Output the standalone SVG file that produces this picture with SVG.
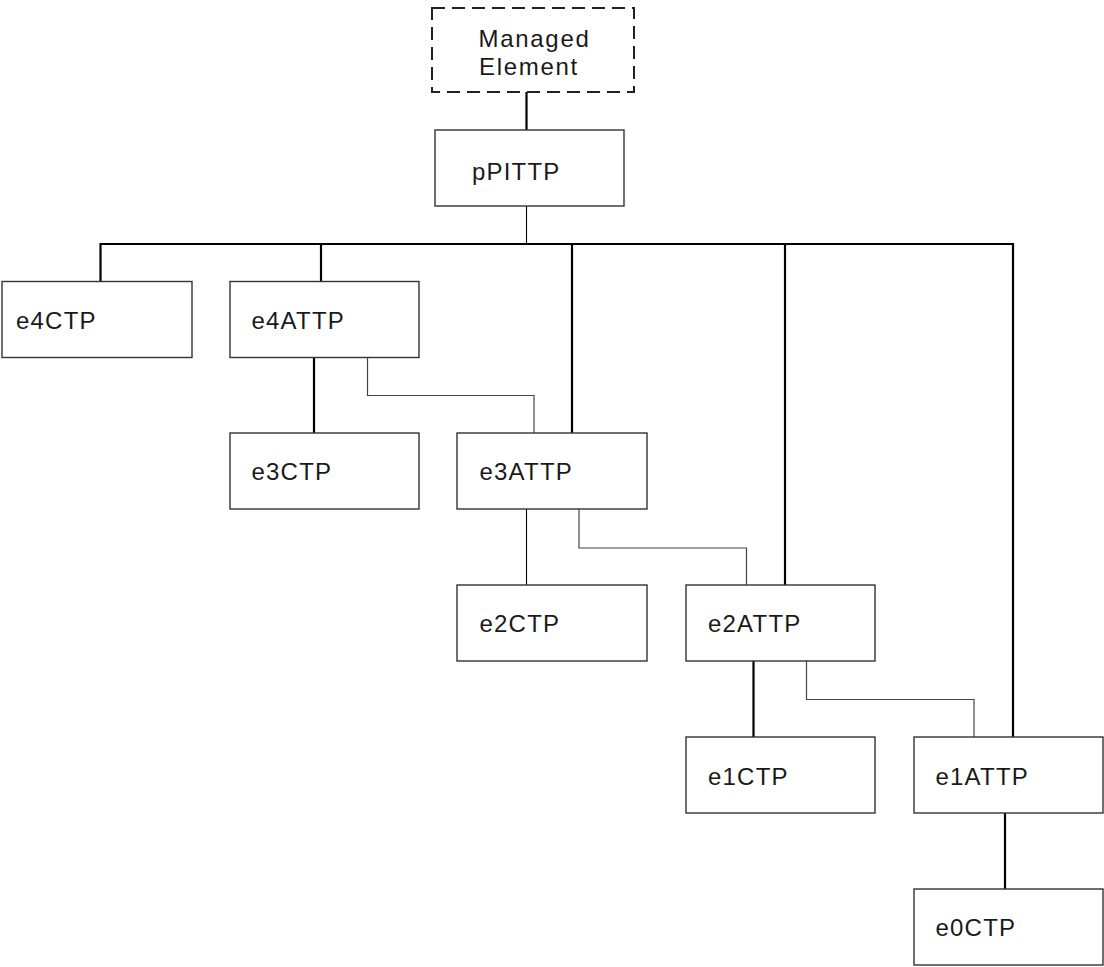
<svg xmlns="http://www.w3.org/2000/svg" width="1104" height="967" viewBox="0 0 1104 967">
<style>
.box{fill:#fff;stroke:#333;stroke-width:1.4}
.dash{fill:#fff;stroke:#222;stroke-width:2;stroke-dasharray:13 7}
.lbl{font-family:"Liberation Sans",Arial,sans-serif;font-size:24px;letter-spacing:1.2px;fill:#1a1a1a}
.me{letter-spacing:1.7px}
.thick{fill:none;stroke:#000;stroke-width:2.2}
.thin{fill:none;stroke:#000;stroke-width:1.1}
.jog{fill:none;stroke:#444;stroke-width:1.2}
</style>
<rect width="1104" height="967" fill="#fff"/>
<g id="connectors">
<line class="thick" x1="526.5" y1="92" x2="526.5" y2="130"/>
<line class="thin" x1="526.5" y1="206" x2="526.5" y2="244"/>
<polyline class="thick" points="100.5,282 100.5,244 1013,244 1013,737"/>
<line class="thick" x1="321" y1="244" x2="321" y2="282"/>
<line class="thick" x1="572" y1="244" x2="572" y2="433"/>
<line class="thick" x1="785" y1="244" x2="785" y2="585"/>
<line class="thick" x1="314" y1="357" x2="314" y2="433"/>
<polyline class="jog" points="367.5,357 367.5,395.5 534,395.5 534,433"/>
<line class="thin" x1="526.5" y1="509" x2="526.5" y2="585"/>
<polyline class="jog" points="579,509 579,548 746.5,548 746.5,585"/>
<line class="thick" x1="753.5" y1="661" x2="753.5" y2="737"/>
<polyline class="jog" points="806.5,661 806.5,699.5 974,699.5 974,737"/>
<line class="thick" x1="1005" y1="813" x2="1005" y2="889"/>
</g>
<g id="managed-element">
<rect class="dash" x="432" y="8" width="202" height="84"/>
<text class="lbl me" x="478.5" y="46.5">Managed</text>
<text class="lbl me" x="479" y="75">Element</text>
</g>
<g id="pPITTP">
<rect class="box" x="435" y="130" width="189" height="76"/>
<text class="lbl" x="472" y="180">pPITTP</text>
</g>
<g id="e4CTP">
<rect class="box" x="2" y="281.5" width="190" height="76"/>
<text class="lbl" x="16" y="328.5">e4CTP</text>
</g>
<g id="e4ATTP">
<rect class="box" x="230" y="281.5" width="189" height="76"/>
<text class="lbl" x="251.5" y="328.5">e4ATTP</text>
</g>
<g id="e3CTP">
<rect class="box" x="230" y="433" width="189" height="76"/>
<text class="lbl" x="251.5" y="480">e3CTP</text>
</g>
<g id="e3ATTP">
<rect class="box" x="457" y="433" width="190" height="76"/>
<text class="lbl" x="479.5" y="480">e3ATTP</text>
</g>
<g id="e2CTP">
<rect class="box" x="457" y="585" width="190" height="76"/>
<text class="lbl" x="479.5" y="632">e2CTP</text>
</g>
<g id="e2ATTP">
<rect class="box" x="686" y="585" width="189" height="76"/>
<text class="lbl" x="708" y="632">e2ATTP</text>
</g>
<g id="e1CTP">
<rect class="box" x="686" y="737" width="189" height="76"/>
<text class="lbl" x="708" y="784.5">e1CTP</text>
</g>
<g id="e1ATTP">
<rect class="box" x="914" y="737" width="189" height="76"/>
<text class="lbl" x="935.5" y="784.5">e1ATTP</text>
</g>
<g id="e0CTP">
<rect class="box" x="914" y="889" width="189" height="76"/>
<text class="lbl" x="935.5" y="936">e0CTP</text>
</g>
</svg>
